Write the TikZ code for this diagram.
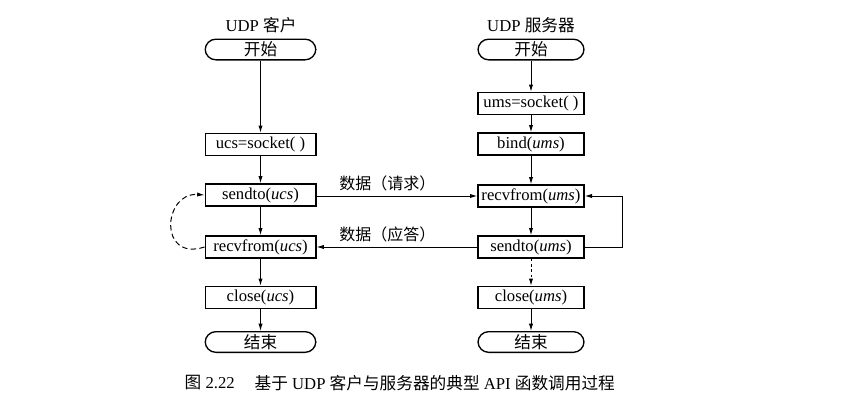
\documentclass[tikz,border=0pt]{standalone}
\usepackage{fontspec}
\setmainfont{Liberation Serif}
\newfontfamily\cjk{Noto Sans CJK SC}
\usetikzlibrary{arrows.meta}
\begin{document}
\begin{tikzpicture}[x=0.75pt,y=-0.75pt,
  every node/.style={font=\fontsize{12.5}{14}\selectfont},
  box/.style={draw,line width=1pt,inner sep=0pt,minimum height=16.5pt},
  cbox/.style={box,minimum width=83pt},
  sbox/.style={box,minimum width=79.5pt},
  term/.style={box,rounded corners=8pt,minimum height=15.5pt},
  arr/.style={line width=0.75pt,-{Latex[length=5.5pt,width=3.2pt]}},
  lbl/.style={font=\fontsize{12.5}{14}\selectfont}]
\path[use as bounding box] (0,0) rectangle (851,414);
% headers
\node[lbl] (ch) at (261,25) {UDP {\cjk 客户}};
\node[lbl] (sh) at (531,25) {UDP {\cjk 服务器}};
% client column
\node[cbox,term] (cs) at (260.5,49.5) {\cjk 开始};
\node[cbox] (csock) at (260.5,144.5) {ucs=socket( )};
\node[cbox] (csend) at (260.5,195) {sendto(\textit{ucs})};
\node[cbox] (crecv) at (260.5,247) {recvfrom(\textit{ucs})};
\node[cbox] (cclose) at (260.5,297.5) {close(\textit{ucs})};
\node[cbox,term] (cend) at (260.5,342) {\cjk 结束};
% server column
\node[sbox,term] (ss) at (531,49.5) {\cjk 开始};
\node[sbox] (ssock) at (531,103.5) {ums=socket( )};
\node[sbox] (sbind) at (531,144) {bind(\textit{ums})};
\node[sbox] (srecv) at (531,196) {recvfrom(\textit{ums})};
\node[sbox] (ssend) at (531,247) {sendto(\textit{ums})};
\node[sbox] (sclose) at (531,297.5) {close(\textit{ums})};
\node[sbox,term] (send) at (531,342) {\cjk 结束};
% client arrows
\draw[arr] (cs) -- (csock);
\draw[arr] (csock) -- (csend);
\draw[arr] (csend) -- (crecv);
\draw[arr] (crecv) -- (cclose);
\draw[arr] (cclose) -- (cend);
\draw[arr,dash pattern=on 4pt off 2.5pt] (crecv.west) .. controls (158,262) and (163,192) .. (csend.west);
% server arrows
\draw[arr] (ss) -- (ssock);
\draw[arr] (ssock) -- (sbind);
\draw[arr] (sbind) -- (srecv);
\draw[arr] (srecv) -- (ssend);
\draw[arr,dash pattern=on 2pt off 2pt] (ssend) -- (sclose);
\draw[arr] (sclose) -- (send);
\coordinate (lp) at (622,247);
\draw[arr] (ssend.east) -- (lp) |- (srecv.east);
% data arrows
\draw[arr] (csend.east |- srecv) -- node[pos=0.44,above=0pt,font=\cjk\fontsize{12}{14}\selectfont] {数据（请求）} (srecv.west);
\draw[arr] (ssend.west) -- node[pos=0.56,above=0pt,font=\cjk\fontsize{12}{14}\selectfont] {数据（应答）} (crecv.east);
% caption
\node[lbl,anchor=west] (capn) at (180,383) {{\cjk 图} 2.22};
\node[lbl,anchor=west] (capt) at (250,383) {{\cjk 基于} UDP {\cjk 客户与服务器的典型} API {\cjk 函数调用过程}};
\end{tikzpicture}
\end{document}
